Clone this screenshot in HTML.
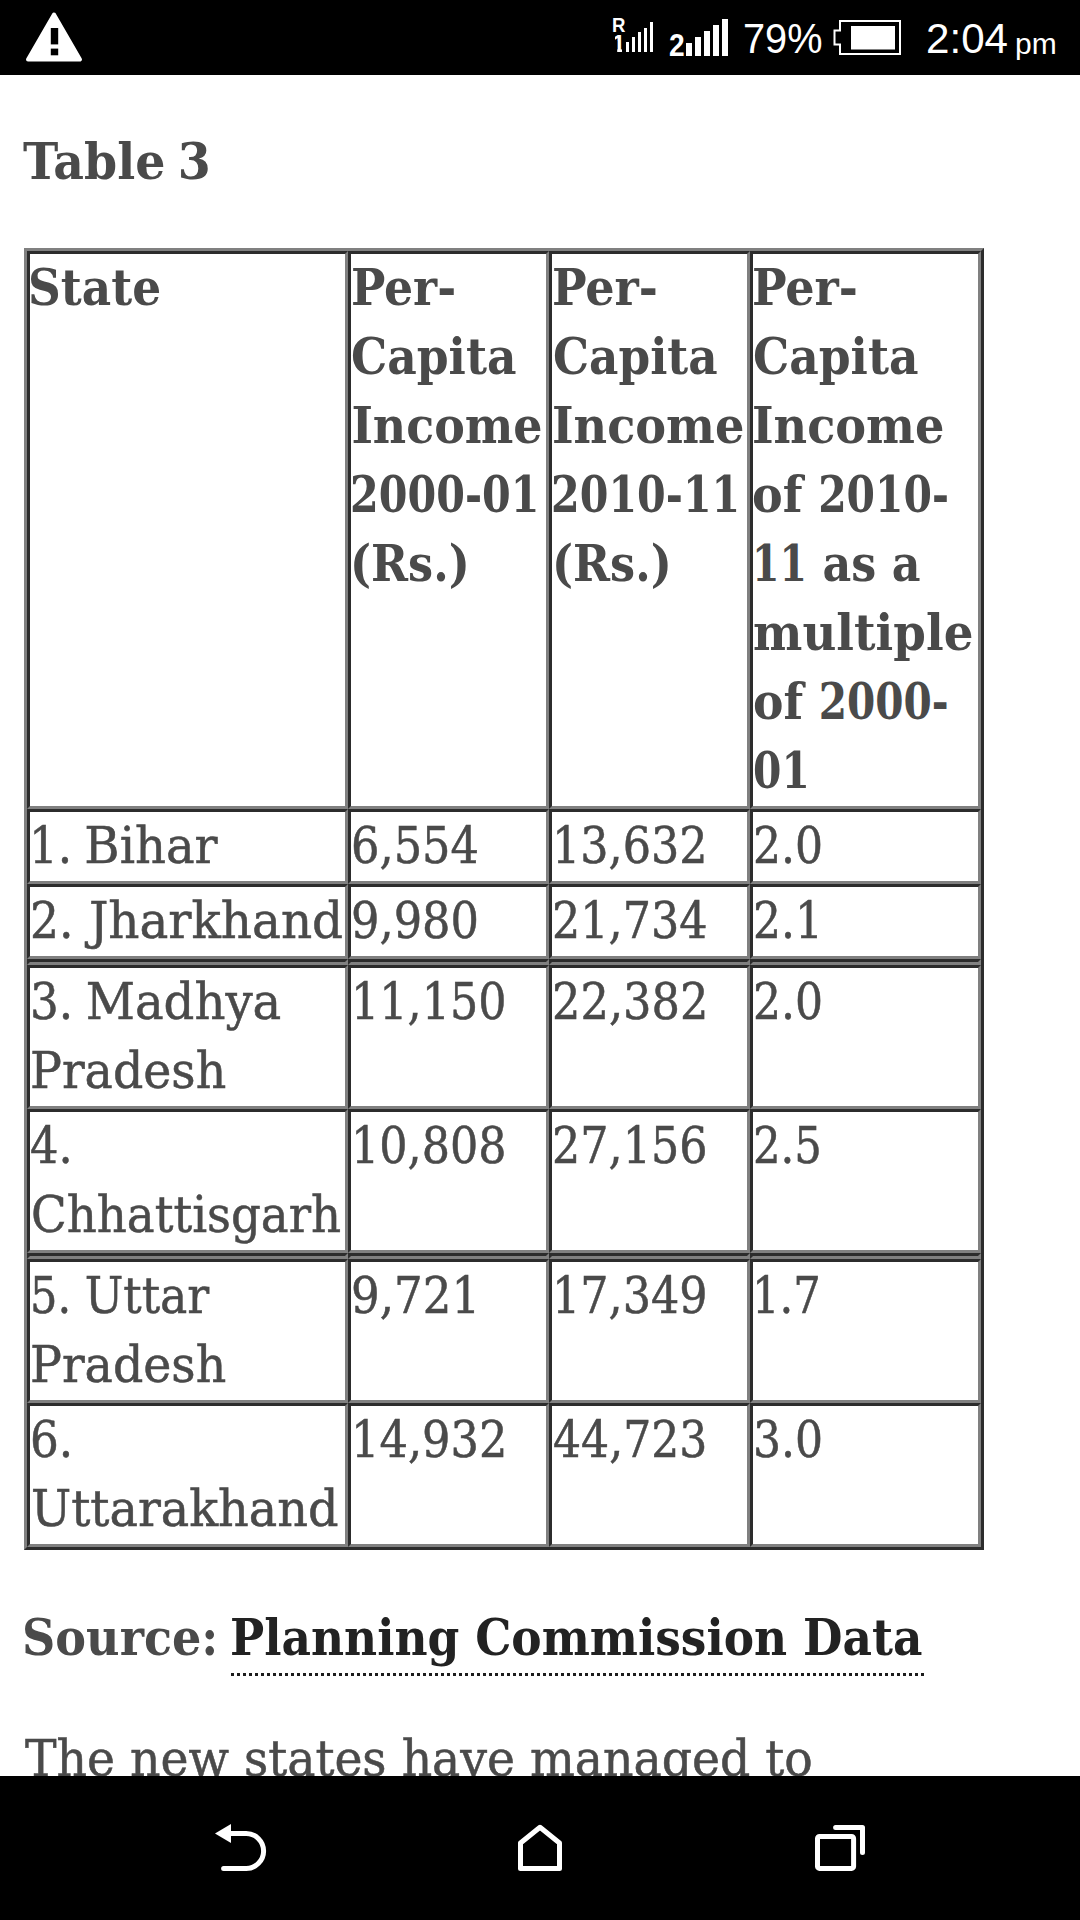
<!DOCTYPE html>
<html lang="en">
<head>
<meta charset="utf-8">
<title>Table 3</title>
<style>
html,body{margin:0;padding:0;}
body{width:1080px;height:1920px;position:relative;overflow:hidden;background:#fff;
 font-family:"DejaVu Serif Condensed","DejaVu Serif","Liberation Serif",serif;font-size:51px;line-height:69px;color:#4a4a4a;font-stretch:condensed;}
#status{position:absolute;left:0;top:0;width:1080px;height:75px;background:#000;}
#nav{position:absolute;left:0;top:1776px;width:1080px;height:144px;background:#000;}
#status svg,#nav svg{position:absolute;left:0;top:0;}
.sb{position:absolute;color:#fff;font-stretch:normal;font-family:"Liberation Sans",sans-serif;white-space:nowrap;line-height:1;}
.abs{position:absolute;white-space:nowrap;margin:0;}
b,th,.b{font-weight:bold;}
table{position:absolute;left:24px;top:248px;width:960px;border-collapse:separate;border-spacing:0;table-layout:fixed;
 border:3px solid;border-color:#808080 #2c2c2c #2c2c2c #808080;}
td,th{padding:0;vertical-align:top;text-align:left;border:3px solid;border-color:#2c2c2c #808080 #808080 #2c2c2c;
 font-size:51px;line-height:69px;white-space:nowrap;overflow:visible;}
.l{position:relative;top:-1.5px;display:inline-block;white-space:nowrap;transform-origin:0 50%;}
.s{display:inline-block;transform-origin:0 50%;}
td .l,.reg .l{-webkit-text-stroke:0.5px #4a4a4a;}
tr.e td{height:0;line-height:0;font-size:0;}
a{color:#222;text-decoration:none;}
</style>
</head>
<body>
<div id="status">
<svg width="1080" height="75" viewBox="0 0 1080 75">
 <path d="M54 14.5 L80 59.5 H28 Z" fill="#fff" stroke="#fff" stroke-width="4" stroke-linejoin="round"/>
 <rect x="50.8" y="28" width="7.4" height="16.4" fill="#000"/>
 <rect x="50.8" y="48.6" width="7.4" height="6.7" fill="#000"/>
 <g fill="#fff">
  <rect x="626" y="42" width="3" height="10"/><rect x="632" y="37" width="3" height="15"/><rect x="638" y="32" width="3" height="20"/><rect x="644" y="28" width="3" height="24"/><rect x="650" y="22" width="3" height="30"/>
  <rect x="686" y="43" width="6" height="13"/><rect x="695" y="37" width="6" height="19"/><rect x="704" y="31" width="6" height="25"/><rect x="713" y="25" width="6" height="31"/><rect x="722" y="19" width="6" height="37"/>
  <rect x="851" y="26" width="44" height="23.5"/>
 </g>
 <path d="M840 21 H900 V54 H840 V44.5 H834.5 V30.5 H840 Z" fill="none" stroke="#fff" stroke-width="2"/>
</svg>
<div class="sb" id="sR" style="left:612px;top:15px;font-size:20px;font-weight:bold;transform:scaleX(0.93);transform-origin:0 0;">R</div>
<div class="sb" id="s1" style="left:612px;top:32px;font-size:24px;font-weight:bold;clip-path:polygon(3px 0,10px 0,10px 24px,5.2px 24px,5.2px 9px,3px 9px);">1</div>
<div class="sb" id="s2" style="left:669px;top:28.5px;font-size:32px;font-weight:bold;transform:scaleX(0.88);transform-origin:0 0;">2</div>
<div class="sb" id="sp" style="left:743px;top:17.9px;font-size:42px;transform:scaleX(0.945);transform-origin:0 0;">79%</div>
<div class="sb" id="st" style="left:926px;top:17px;font-size:43px;transform:scaleX(0.98);transform-origin:0 0;">2:04</div>
<div class="sb" id="sm" style="left:1015px;top:28.6px;font-size:30px;">pm</div>
</div>

<p class="abs b" style="left:24px;top:128.5px;"><span class="l" id="t3" style="transform:scaleX(1.0336);margin-left:-1.00px;word-spacing:-4.0px">Table <span class="s" id="t3_1" style="transform:scaleX(1.000);margin-right:-0.00px">3</span></span></p>

<table>
<colgroup><col style="width:321px"><col style="width:201px"><col style="width:201px"><col style="width:231px"></colgroup>
<tr style="height:558px"><th><span class="l" id="h1a" style="transform:scaleX(0.9892);margin-left:-1.60px">State</span></th><th><span class="l" id="h2a" style="transform:scaleX(0.9961);margin-left:0.40px">Per-</span><br><span class="l" id="h2b" style="transform:scaleX(0.9927);margin-left:0.40px">Capita</span><br><span class="l" id="h2c" style="transform:scaleX(1.0000);margin-left:0.40px">Income</span><br><span class="l" id="h2d" style="transform:scaleX(0.8999);margin-left:-0.60px">2000-01</span><br><span class="l" id="h2e" style="transform:scaleX(0.9705);margin-left:-1.40px">(Rs.)</span></th><th><span class="l" id="h3a" style="transform:scaleX(1.0040);margin-left:-0.40px">Per-</span><br><span class="l" id="h3b" style="transform:scaleX(0.9878);margin-left:1.00px">Capita</span><br><span class="l" id="h3c" style="transform:scaleX(1.0064);margin-left:0.00px">Income</span><br><span class="l" id="h3d" style="transform:scaleX(0.8989);margin-left:-1.00px">2010-11</span><br><span class="l" id="h3e" style="transform:scaleX(0.9705);margin-left:-0.40px">(Rs.)</span></th><th><span class="l" id="h4a" style="transform:scaleX(1.0040);margin-left:-0.60px">Per-</span><br><span class="l" id="h4b" style="transform:scaleX(0.9927);margin-left:0.40px">Capita</span><br><span class="l" id="h4c" style="transform:scaleX(1.0064);margin-left:-0.60px">Income</span><br><span class="l" id="h4d" style="transform:scaleX(1.0021);margin-left:-0.60px">of <span class="s" id="h4d_1" style="transform:scaleX(0.890);margin-right:-16.14px">2010-</span></span><br><span class="l" id="h4e" style="transform:scaleX(0.9679);margin-left:-1.40px"><span class="s" id="h4e_0" style="transform:scaleX(0.890);margin-right:-7.02px">11</span> as a</span><br><span class="l" id="h4f" style="transform:scaleX(1.0169);margin-left:0.00px">multiple</span><br><span class="l" id="h4g" style="transform:scaleX(0.9948);margin-left:0.00px">of <span class="s" id="h4g_1" style="transform:scaleX(0.890);margin-right:-16.14px">2000-</span></span><br><span class="l" id="h4h" style="transform:scaleX(0.8900);margin-left:0.00px">01</span></th></tr>
<tr><td><span class="l" id="r1a" style="transform:scaleX(1.0476);margin-left:-1.00px;word-spacing:-3.0px"><span class="s" id="r1a_0" style="transform:scaleX(0.942);margin-right:-2.54px">1.</span> Bihar</span></td><td><span class="l" id="r1b" style="transform:scaleX(0.9750);margin-left:0.00px">6,554</span></td><td><span class="l" id="r1c" style="transform:scaleX(0.9684);margin-left:0.00px">13,632</span></td><td><span class="l" id="r1d" style="transform:scaleX(0.9605);margin-left:0.00px">2.0</span></td></tr>
<tr><td><span class="l" id="r2a" style="transform:scaleX(1.0555);margin-left:-0.20px"><span class="s" id="r2a_0" style="transform:scaleX(0.942);margin-right:-2.54px">2.</span> Jharkhand</span></td><td><span class="l" id="r2b" style="transform:scaleX(0.9750);margin-left:0.00px">9,980</span></td><td><span class="l" id="r2c" style="transform:scaleX(0.9686);margin-left:0.00px">21,734</span></td><td><span class="l" id="r2d" style="transform:scaleX(0.9594);margin-left:0.00px">2.1</span></td></tr>
<tr class="e"><td></td><td></td><td></td><td></td></tr>
<tr><td><span class="l" id="r3a" style="transform:scaleX(1.0485);margin-left:-0.20px;word-spacing:-2.7px"><span class="s" id="r3a_0" style="transform:scaleX(0.942);margin-right:-2.54px">3.</span> Madhya</span><br><span class="l" id="r3a2" style="transform:scaleX(1.0339);margin-left:0.20px">Pradesh</span></td><td><span class="l" id="r3b" style="transform:scaleX(0.9685);margin-left:0.00px">11,150</span></td><td><span class="l" id="r3c" style="transform:scaleX(0.9750);margin-left:0.00px">22,382</span></td><td><span class="l" id="r3d" style="transform:scaleX(0.9605);margin-left:0.00px">2.0</span></td></tr>
<tr><td><span class="l" id="r4a" style="transform:scaleX(0.9750);margin-left:0.00px">4.</span><br><span class="l" id="r4a2" style="transform:scaleX(1.0171);margin-left:1.20px">Chhattisgarh</span></td><td><span class="l" id="r4b" style="transform:scaleX(0.9685);margin-left:0.00px">10,808</span></td><td><span class="l" id="r4c" style="transform:scaleX(0.9685);margin-left:0.00px">27,156</span></td><td><span class="l" id="r4d" style="transform:scaleX(0.9450);margin-left:0.00px">2.5</span></td></tr>
<tr class="e"><td></td><td></td><td></td><td></td></tr>
<tr><td><span class="l" id="r5a" style="transform:scaleX(0.9979);margin-left:-0.20px;word-spacing:-1.0px"><span class="s" id="r5a_0" style="transform:scaleX(0.942);margin-right:-2.54px">5.</span> Uttar</span><br><span class="l" id="r5a2" style="transform:scaleX(1.0339);margin-left:0.20px">Pradesh</span></td><td><span class="l" id="r5b" style="transform:scaleX(0.9832);margin-left:0.00px">9,721</span></td><td><span class="l" id="r5c" style="transform:scaleX(0.9685);margin-left:0.00px">17,349</span></td><td><span class="l" id="r5d" style="transform:scaleX(0.9442);margin-left:-1.00px">1.7</span></td></tr>
<tr><td><span class="l" id="r6a" style="transform:scaleX(0.9861);margin-left:-0.20px">6.</span><br><span class="l" id="r6a2" style="transform:scaleX(1.0398);margin-left:0.80px">Uttarakhand</span></td><td><span class="l" id="r6b" style="transform:scaleX(0.9750);margin-left:0.00px">14,932</span></td><td><span class="l" id="r6c" style="transform:scaleX(0.9623);margin-left:1.00px">44,723</span></td><td><span class="l" id="r6d" style="transform:scaleX(0.9605);margin-left:0.00px">3.0</span></td></tr>
</table>

<p class="abs b" style="left:24px;top:1604px;"><span class="l" id="src" style="transform:scaleX(1.0053);margin-left:-2.00px">Source:</span> <a><span class="l" id="lnk" style="transform:scaleX(0.9914);margin-left:-3.00px">Planning Commission Data</span></a></p>

<div id="ul" style="position:absolute;left:231px;top:1673px;width:693px;height:3px;background:repeating-linear-gradient(90deg,#1c1c1c 0,#1c1c1c 3px,transparent 3px,transparent 6px);"></div>

<p class="abs reg" style="left:24px;top:1725px;"><span class="l" id="para" style="transform:scaleX(1.0308);margin-left:1.00px">The new states have managed to</span></p>

<div id="nav">
<svg width="1080" height="144" viewBox="0 1776 1080 144">
 <g fill="none" stroke="#fff" stroke-width="5" stroke-linecap="round" stroke-linejoin="round">
  <path d="M231 1833.6 H246.2 A17.4 17.4 0 0 1 246.2 1868.4 H223.6"/>
  <path d="M520.5 1843 L540 1827.3 L559.5 1843 V1868.4 H520.5 Z"/>
  <rect x="817.5" y="1836.4" width="36.1" height="32" rx="2"/>
  <path d="M835.6 1827.5 H862.5 V1852.5"/>
 </g>
 <path d="M215 1833.6 L231 1823.9 V1843 Z" fill="#fff"/>
</svg>
</div>
</body>
</html>
